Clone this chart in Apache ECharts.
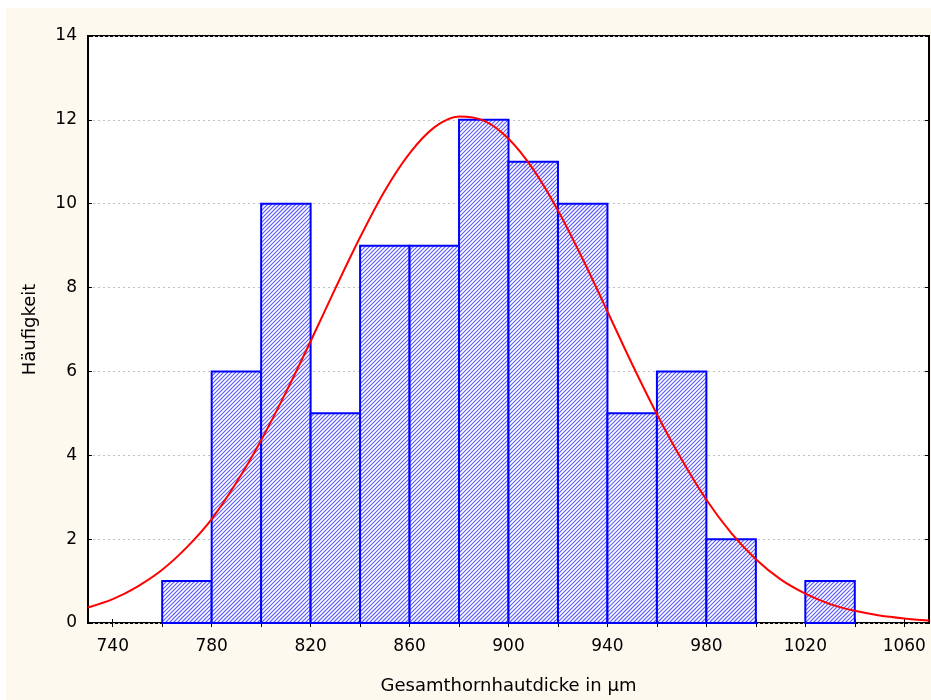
<!DOCTYPE html>
<html>
<head>
<meta charset="utf-8">
<script src="https://cdn.jsdelivr.net/npm/echarts@6/dist/echarts.min.js"></script>
<style>
html,body{margin:0;padding:0;background:#ffffff;}
#chart{width:931px;height:700px;}
</style>
</head>
<body>
<div id="chart"></div>
<script>
// Histogram data
const binStarts = [760, 780, 800, 820, 840, 860, 880, 900, 920, 940, 960, 980, 1000, 1020];
const binWidth = 20;
const counts = [1, 6, 10, 5, 9, 9, 12, 11, 10, 5, 6, 2, 0, 1];
// Fitted normal curve
const curveX = [730, 740, 750, 760, 770, 780, 790, 800, 810, 820, 830, 840, 850, 860, 870, 880, 890, 900, 910, 920, 930, 940, 950, 960, 970, 980, 990, 1000, 1010, 1020, 1030, 1040, 1050, 1060, 1070];
const curveY = [0.37, 0.57, 0.87, 1.27, 1.81, 2.48, 3.35, 4.36, 5.50, 6.72, 7.98, 9.20, 10.31, 11.20, 11.82, 12.08, 11.98, 11.55, 10.82, 9.84, 8.68, 7.43, 6.17, 4.98, 3.90, 2.94, 2.15, 1.52, 1.04, 0.70, 0.45, 0.29, 0.18, 0.11, 0.06];
// Tick labels
const xLabelValues = [740, 780, 820, 860, 900, 940, 980, 1020, 1060];
const xTickValues = [740, 760, 780, 800, 820, 840, 860, 880, 900, 920, 940, 960, 980, 1000, 1020, 1040, 1060];
const xTitle = 'Gesamthornhautdicke in µm';
const yTitle = 'Häufigkeit';

const histData = [];
binStarts.forEach((s, i) => { if (counts[i] > 0) histData.push([s, s + binWidth, counts[i]]); });
const lineData = curveX.map((x, i) => [x, curveY[i]]);

const chart = echarts.init(document.getElementById('chart'), null, { renderer: 'canvas' });
const font = 'DejaVu Sans';
const fs = 17;
const tickStyle = { show: true, inside: true, length: 4, lineStyle: { color: '#000', width: 1 } };
chart.setOption({
  backgroundColor: 'transparent',
  animation: false,
  graphic: [{ type: 'rect', z: -10, silent: true, shape: { x: 6, y: 8, width: 925, height: 692 }, style: { fill: '#fdf9ef' } }],
  grid: { left: 88, top: 36, right: 2, bottom: 77, show: true, backgroundColor: '#ffffff', borderColor: '#000000', borderWidth: 2 },
  xAxis: [{
    type: 'value', min: 730, max: 1070, position: 'bottom',
    name: xTitle, nameLocation: 'middle', nameGap: 54,
    nameTextStyle: { fontFamily: font, fontSize: 18, color: '#000' },
    axisLine: { show: false },
    axisTick: Object.assign({ customValues: xTickValues }, tickStyle),
    axisLabel: { customValues: xLabelValues, fontFamily: font, fontSize: fs, color: '#000', margin: 15, formatter: v => String(v) },
    splitLine: { show: false }
  }, {
    type: 'value', min: 730, max: 1070, position: 'top',
    axisLine: { show: false },
    axisTick: Object.assign({ customValues: xTickValues }, tickStyle),
    axisLabel: { show: false },
    splitLine: { show: false }
  }],
  yAxis: [{
    type: 'value', min: 0, max: 14, interval: 2, position: 'left',
    name: yTitle, nameLocation: 'middle', nameGap: 49, nameRotate: 90,
    nameTextStyle: { fontFamily: font, fontSize: 18, color: '#000' },
    axisLine: { show: false },
    axisTick: tickStyle,
    axisLabel: { fontFamily: font, fontSize: fs, color: '#000', margin: 11 },
    splitLine: { show: true, lineStyle: { color: '#c0c0c0', type: [2, 3], width: 1 } }
  }, {
    type: 'value', min: 0, max: 14, interval: 2, position: 'right',
    axisLine: { show: false },
    axisTick: tickStyle,
    axisLabel: { show: false },
    splitLine: { show: false }
  }],
  series: [{
    type: 'custom',
    xAxisIndex: 0, yAxisIndex: 0,
    z: 2,
    data: histData,
    renderItem: function (params, api) {
      const p0 = api.coord([api.value(0), 0]);
      const p1 = api.coord([api.value(1), api.value(2)]);
      const x = p0[0], y = p1[1], w = p1[0] - p0[0], h = p0[1] - p1[1];
      const hatchLines = [];
      const cStart = Math.floor((x + y) / 4) * 4;
      for (let c = cStart; c <= x + w + y + h + 4; c += 4) {
        hatchLines.push({
          type: 'line',
          shape: { x1: c - (y + h), y1: y + h, x2: c - y, y2: y },
          style: { stroke: '#5c5cff', lineWidth: 1.2 }
        });
      }
      return {
        type: 'group',
        children: [
          { type: 'rect', shape: { x: x, y: y, width: w, height: h }, style: { fill: '#ffffff' } },
          { type: 'group', children: hatchLines, clipPath: { type: 'rect', shape: { x: x, y: y, width: w, height: h } } },
          { type: 'rect', shape: { x: x, y: y, width: w, height: h }, style: { fill: 'none', stroke: '#0000ff', lineWidth: 2 } }
        ]
      };
    }
  }, {
    type: 'line',
    xAxisIndex: 0, yAxisIndex: 0,
    z: 3,
    data: lineData,
    smooth: 0.3,
    showSymbol: false,
    lineStyle: { color: '#ff0000', width: 2 }
  }]
});
</script>
</body>
</html>
